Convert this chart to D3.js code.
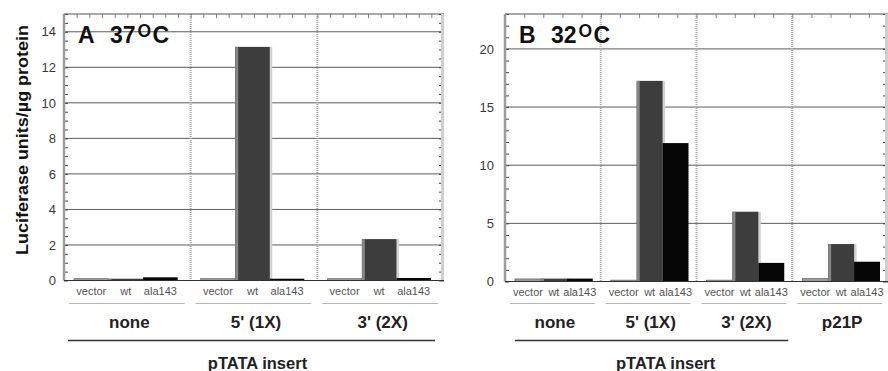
<!DOCTYPE html>
<html>
<head>
<meta charset="utf-8">
<script src="https://cdn.jsdelivr.net/npm/d3@7"></script>
<style>
  body { margin: 0; background: #fff; }
  svg { display: block; }
  text { font-family: "Liberation Sans", Arial, Helvetica, sans-serif; }
</style>
</head>
<body>
<svg id="chart" width="888" height="371"></svg>
<script>
// Data
const barTypes = ["vector", "wt", "ala143"];

const groupsA = ["none", "5' (1X)", "3' (2X)"];
const vectorA = [0.1, 0.1, 0.1];
const wtA = [0.1, 13.15, 2.33];
const ala143A = [0.18, 0.1, 0.14];
const yTicksA = [0, 2, 4, 6, 8, 10, 12, 14];

const groupsB = ["none", "5' (1X)", "3' (2X)", "p21P"];
const vectorB = [0.22, 0.12, 0.12, 0.25];
const wtB = [0.25, 17.25, 6.0, 3.22];
const ala143B = [0.25, 11.9, 1.6, 1.7];
const yTicksB = [0, 5, 10, 15, 20];

const fills = { vector: "#9a9a9a", wt: "#3d3d3d", ala143: "#060606" };

const svg = d3.select("#chart");

const translate = (x, y) => `translate(${x}, ${y})`;

function drawPanel(p) {
    const y = d3.scaleLinear().domain([0, p.yMax]).range([p.zeroY, p.top]);
    const gx = d3.scaleBand().domain(p.groups).range([p.left, p.right]);
    const bx = d3.scaleBand().domain(barTypes)
        .range([p.barPadL, gx.bandwidth() - p.barPadR]);
    const g = svg.append("g");

    const rows = p.groups.map((grp, i) => ({
        grp,
        bars: barTypes.map((t, j) => ({ type: t, value: p.series[j][i] }))
    }));

    // gridlines
    g.append("g").selectAll("line")
        .data(p.yTicks.filter(d => d > 0))
        .join("line")
        .attr("x1", p.left).attr("x2", p.right)
        .attr("y1", d => y(d)).attr("y2", d => y(d))
        .attr("stroke", "#5c5c5c").attr("stroke-width", 1);

    // dotted group separators
    g.append("g").selectAll("line")
        .data(p.groups.slice(1))
        .join("line")
        .attr("x1", d => gx(d)).attr("x2", d => gx(d))
        .attr("y1", p.top).attr("y2", p.zeroY)
        .attr("stroke", "#a8a8a8").attr("stroke-width", 2)
        .attr("stroke-dasharray", "1 1");

    // minor ticks, inner side
    const minorVals = d3.range(0, p.yMax + 1e-9, p.minor);
    g.append("g").attr("transform", translate(p.left, 0))
        .call(d3.axisRight(y).tickValues(minorVals).tickSize(4).tickFormat(""))
        .call(s => s.select(".domain").remove())
        .selectAll("line").attr("stroke", "#444");
    g.append("g").attr("transform", translate(p.right, 0))
        .call(d3.axisLeft(y).tickValues(minorVals).tickSize(5).tickFormat(""))
        .call(s => s.select(".domain").remove())
        .selectAll("line").attr("stroke", "#444");
    const topScale = d3.scaleLinear().domain([0, p.topN]).range([p.left, p.right]);
    g.append("g").attr("transform", translate(0, p.top))
        .call(d3.axisBottom(topScale).tickValues(d3.range(1, p.topN)).tickSize(4).tickFormat(""))
        .call(s => s.select(".domain").remove())
        .selectAll("line").attr("stroke", "#888");

    // tick labels
    g.append("g").attr("transform", translate(p.left, 0))
        .call(d3.axisLeft(y).tickValues(p.yTicks).tickSize(0).tickPadding(p.labelPad))
        .call(s => s.select(".domain").remove())
        .selectAll("text")
        .attr("font-size", 13).attr("fill", "#3a3a3a")
        .attr("font-family", "Liberation Sans, Arial, sans-serif");

    // frame
    g.append("line").attr("x1", p.left).attr("x2", p.right)
        .attr("y1", p.top).attr("y2", p.top)
        .attr("stroke", "#555").attr("stroke-width", 1.2);
    g.append("line").attr("x1", p.left).attr("x2", p.left)
        .attr("y1", p.top).attr("y2", p.zeroY)
        .attr("stroke", "#9c9c9c").attr("stroke-width", 2.5);
    g.append("line").attr("x1", p.right - 1.5).attr("x2", p.right - 1.5)
        .attr("y1", p.top).attr("y2", p.zeroY)
        .attr("stroke", "#cfcfcf").attr("stroke-width", 3);

    // bars
    const grpG = g.append("g").selectAll("g")
        .data(rows)
        .join("g")
        .attr("transform", d => translate(gx(d.grp), 0));

    grpG.selectAll("rect.shadow")
        .data(d => d.bars.filter(b => b.type === "wt"))
        .join("rect")
        .attr("class", "shadow")
        .attr("x", d => bx(d.type) + bx.bandwidth() - 1)
        .attr("y", d => y(d.value))
        .attr("width", 3.5)
        .attr("height", d => y(0) - y(d.value))
        .attr("fill", "#d2d2d2");

    grpG.selectAll("rect.bar")
        .data(d => d.bars)
        .join("rect")
        .attr("class", "bar")
        .attr("x", d => bx(d.type))
        .attr("y", d => y(d.value))
        .attr("width", bx.bandwidth())
        .attr("height", d => y(0) - y(d.value))
        .attr("fill", d => fills[d.type])
        .attr("stroke", d => d.type === "vector" ? "#555" : "none")
        .attr("stroke-width", 0.6);

    grpG.selectAll("rect.edge")
        .data(d => d.bars.filter(b => b.type === "wt"))
        .join("rect")
        .attr("class", "edge")
        .attr("x", d => bx(d.type))
        .attr("y", d => y(d.value))
        .attr("width", 3)
        .attr("height", d => y(0) - y(d.value))
        .attr("fill", "#858585");

    // baseline
    g.append("line").attr("x1", p.left).attr("x2", p.right)
        .attr("y1", p.zeroY).attr("y2", p.zeroY)
        .attr("stroke", "#333").attr("stroke-width", 1.2);

    // bar labels
    grpG.selectAll("text.bl")
        .data(d => d.bars)
        .join("text")
        .attr("class", "bl")
        .attr("x", d => bx(d.type) + bx.bandwidth() / 2)
        .attr("y", p.zeroY + 14)
        .attr("text-anchor", "middle")
        .attr("font-size", 11)
        .attr("fill", "#555")
        .text(d => d.type);

    // thin rule under bar labels
    grpG.append("line")
        .attr("x1", 5).attr("x2", gx.bandwidth() - 6)
        .attr("y1", 303.5).attr("y2", 303.5)
        .attr("stroke", "#b8b8b8").attr("stroke-width", 1);

    // group labels
    grpG.append("text")
        .attr("x", gx.bandwidth() / 2 + 2)
        .attr("y", 328)
        .attr("text-anchor", "middle")
        .attr("font-size", 17)
        .attr("font-weight", "bold")
        .attr("fill", "#222")
        .text(d => d.grp);

    // pTATA insert rule + label
    const insertEnd = p.insertGroups[p.insertGroups.length - 1];
    const x1 = gx(p.insertGroups[0]) + p.rulePadL;
    const x2 = gx(insertEnd) + gx.bandwidth() - p.rulePadR;
    g.append("line").attr("x1", x1).attr("x2", x2)
        .attr("y1", 340.5).attr("y2", 340.5)
        .attr("stroke", "#333").attr("stroke-width", 1.3);
    g.append("text")
        .attr("x", (x1 + x2) / 2 + p.insertShift)
        .attr("y", 369)
        .attr("text-anchor", "middle")
        .attr("font-size", 16.5)
        .attr("font-weight", "bold")
        .attr("fill", "#222")
        .text("pTATA insert");

    // panel title
    const t = g.append("text")
        .attr("y", p.top + 29)
        .attr("font-size", 23)
        .attr("font-weight", "bold")
        .attr("fill", "#111");
    t.append("tspan").attr("x", p.left + 14).text(p.letter);
    t.append("tspan").attr("x", p.left + 46).text(p.temp);
    t.append("tspan").attr("x", p.left + 73.5).attr("dy", -6).attr("font-size", 17.5).text("O");
    t.append("tspan").attr("x", p.left + 88.5).attr("dy", 6).text("C");
}

drawPanel({
    letter: "A", temp: "37",
    groups: groupsA, series: [vectorA, wtA, ala143A], yTicks: yTicksA,
    yMax: 15, minor: 0.5, topN: 30,
    left: 64, right: 444, top: 14, zeroY: 280.5,
    barPadL: 10, barPadR: 13, labelPad: 8,
    insertGroups: groupsA, rulePadL: 4, rulePadR: 9, insertShift: 6
});

drawPanel({
    letter: "B", temp: "32",
    groups: groupsB, series: [vectorB, wtB, ala143B], yTicks: yTicksB,
    yMax: 23, minor: 1, topN: 20,
    left: 505, right: 888, top: 14, zeroY: 281.5,
    barPadL: 10, barPadR: 8, labelPad: 11,
    insertGroups: groupsB.slice(0, 3), rulePadL: 10, rulePadR: 4, insertShift: 14
});

// shared y axis title
svg.append("text")
    .attr("transform", translate(28, 140) + " rotate(-90)")
    .attr("text-anchor", "middle")
    .attr("font-size", 17)
    .attr("font-weight", "bold")
    .attr("fill", "#111")
    .attr("textLength", 230)
    .attr("lengthAdjust", "spacingAndGlyphs")
    .text("Luciferase units/µg protein");
</script>
</body>
</html>
